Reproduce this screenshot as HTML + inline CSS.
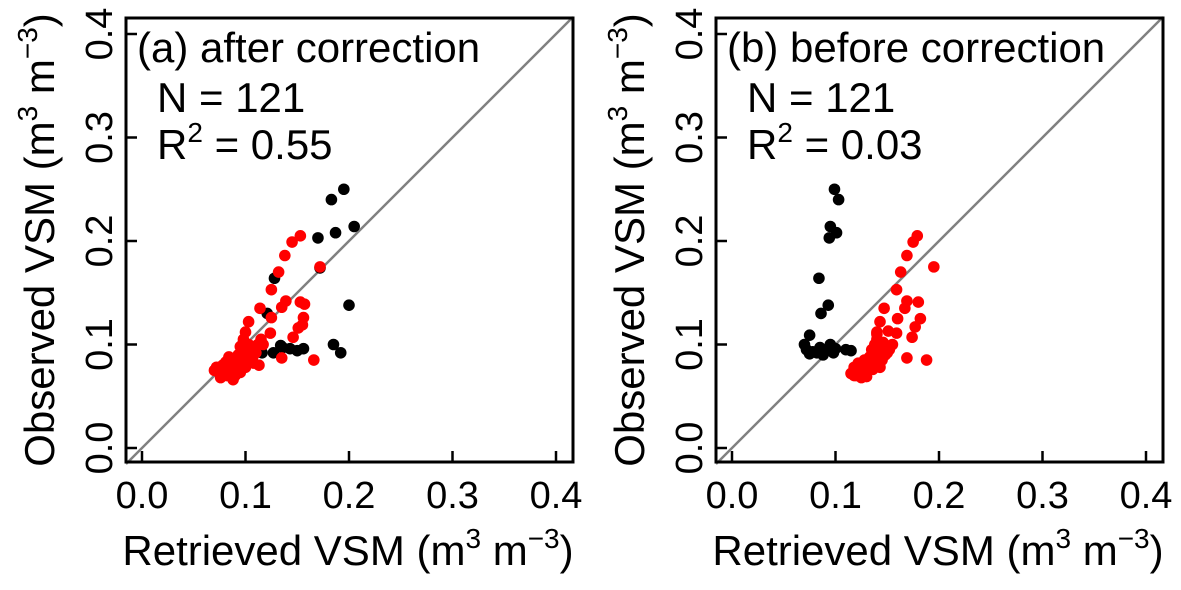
<!DOCTYPE html>
<html><head><meta charset="utf-8"><style>
html,body{margin:0;padding:0;background:#fff;}
svg{display:block;font-family:"Liberation Sans",Arial,sans-serif;}
</style></head><body>
<svg id="chart" width="1181" height="590" viewBox="0 0 1181 590" xmlns="http://www.w3.org/2000/svg"></svg>
<script>
const ticks=[0,0.1,0.2,0.3,0.4];
const tickLabels=["0.0","0.1","0.2","0.3","0.4"];
const aBlackX=[0.195,0.183,0.205,0.187,0.170,0.172,0.128,0.200,0.121,0.185,0.192,0.134,0.136,0.143,0.150,0.156,0.127,0.116,0.098,0.111];
const aBlackY=[0.250,0.240,0.214,0.208,0.203,0.174,0.164,0.138,0.130,0.100,0.092,0.099,0.097,0.096,0.094,0.096,0.092,0.092,0.102,0.097];
const aRedX=[0.153,0.145,0.138,0.172,0.132,0.125,0.139,0.153,0.157,0.135,0.114,0.125,0.156,0.155,0.151,0.103,0.124,0.146,0.117,0.135,0.166,0.100,0.113,0.07,0.075,0.08,0.082,0.085,0.088,0.09,0.092,0.095,0.097,0.1,0.102,0.105,0.107,0.11,0.078,0.086,0.093,0.099,0.103,0.072,0.081,0.09,0.095,0.1,0.108,0.112,0.115,0.095,0.098,0.084,0.076,0.088];
const aRedY=[0.205,0.199,0.186,0.175,0.170,0.153,0.142,0.141,0.139,0.136,0.135,0.126,0.126,0.119,0.116,0.122,0.111,0.107,0.100,0.087,0.085,0.112,0.080,0.075,0.072,0.076,0.070,0.080,0.074,0.082,0.085,0.078,0.088,0.090,0.083,0.095,0.088,0.092,0.080,0.072,0.090,0.095,0.100,0.078,0.083,0.070,0.073,0.078,0.082,0.100,0.105,0.098,0.105,0.088,0.068,0.066];
const bBlackX=[0.099,0.103,0.095,0.101,0.094,0.084,0.093,0.086,0.075,0.07,0.072,0.078,0.082,0.085,0.09,0.095,0.098,0.1,0.11,0.115,0.088,0.075];
const bBlackY=[0.250,0.240,0.214,0.208,0.203,0.164,0.138,0.130,0.109,0.1,0.095,0.093,0.092,0.097,0.094,0.1,0.092,0.096,0.095,0.094,0.09,0.091];
const bRedX=[0.179,0.175,0.169,0.195,0.163,0.159,0.169,0.180,0.167,0.147,0.160,0.182,0.177,0.143,0.159,0.151,0.174,0.155,0.169,0.188,0.140,0.115,0.118,0.12,0.123,0.125,0.127,0.13,0.132,0.135,0.137,0.14,0.142,0.138,0.145,0.133,0.128,0.122,0.14,0.135,0.145,0.15,0.143,0.118,0.126,0.13,0.136,0.146,0.14,0.148,0.152];
const bRedY=[0.205,0.199,0.186,0.175,0.170,0.153,0.142,0.141,0.135,0.135,0.125,0.125,0.117,0.122,0.111,0.113,0.107,0.100,0.087,0.085,0.112,0.072,0.078,0.07,0.075,0.068,0.08,0.073,0.078,0.082,0.086,0.09,0.095,0.1,0.098,0.088,0.085,0.082,0.105,0.095,0.085,0.092,0.078,0.07,0.074,0.069,0.076,0.102,0.11,0.09,0.095];

const NS="http://www.w3.org/2000/svg";
const svg=document.getElementById('chart');
function el(tag,attrs,parent){const e=document.createElementNS(NS,tag);for(const k in attrs)e.setAttribute(k,attrs[k]);(parent||svg).appendChild(e);return e;}
const SUP='<tspan dy="-17" font-size="28">';
function panel(off,label,r2,bx,by,rx,ry,id){
  const g=el('g',{});
  
  
  const sx=v=>142+off+v*1035, sy=v=>448-v*1035;
  const L=126+off,R=573+off,T=18,B=462;
  const d=el('line',{x1:L,y1:sy((L-142-off)/1035),x2:R,y2:sy((R-142-off)/1035),stroke:'#808080','stroke-width':2.5},g);
  
  
  function pts(xs,ys,col,name){
    for(let i=0;i<xs.length;i++){
      const c=el('circle',{cx:sx(xs[i]),cy:sy(ys[i]),r:5.8,fill:col},g);
      
      
    }
  }
  pts(bx,by,'#000','black-point');
  pts(rx,ry,'#ff0000','red-point');
  const box=el('rect',{x:L,y:T,width:R-L,height:B-T,fill:'none',stroke:'#000','stroke-width':3},g);
  
  
  ticks.forEach((t,i)=>{
    el('line',{x1:sx(t),y1:B,x2:sx(t),y2:B-11,stroke:'#000','stroke-width':2.5},g);
    el('line',{x1:L,y1:sy(t),x2:L+11,y2:sy(t),stroke:'#000','stroke-width':2.5},g);
    const xt=el('text',{x:sx(t),y:508,'font-size':38,'text-anchor':'middle'},g);
    xt.textContent=tickLabels[i];
    
    
    const yt=el('text',{x:0,y:0,'font-size':38,'text-anchor':'middle',transform:`translate(${112+off},${sy(t)}) rotate(-90)`},g);
    yt.textContent=tickLabels[i];
    
    
  });
  const t1=el('text',{x:137+off,y:62,'font-size':42},g);
  t1.textContent=label;
  
  
  const t2=el('text',{x:157+off,y:112,'font-size':42},g);
  t2.textContent='N = 121';
  
  
  const t3=el('text',{x:157+off,y:159,'font-size':42},g);
  t3.innerHTML='R'+SUP+'2</tspan><tspan dy="17"> = '+r2+'</tspan>';
  
  
  const xa=el('text',{x:348+off,y:565,'font-size':42,'text-anchor':'middle'},g);
  xa.innerHTML='Retrieved VSM (m'+SUP+'3</tspan><tspan dy="17"> m</tspan>'+SUP+'−3</tspan><tspan dy="17">)</tspan>';
  
  
  const ya=el('text',{x:0,y:0,'font-size':42,'text-anchor':'middle',transform:`translate(${54+off},240) rotate(-90)`},g);
  ya.innerHTML='Observed VSM (m'+SUP+'3</tspan><tspan dy="17"> m</tspan>'+SUP+'−3</tspan><tspan dy="17">)</tspan>';
  
  
}
panel(0,'(a) after correction','0.55',aBlackX,aBlackY,aRedX,aRedY,'panel-a');
panel(590,'(b) before correction','0.03',bBlackX,bBlackY,bRedX,bRedY,'panel-b');
</script>
</body></html>
